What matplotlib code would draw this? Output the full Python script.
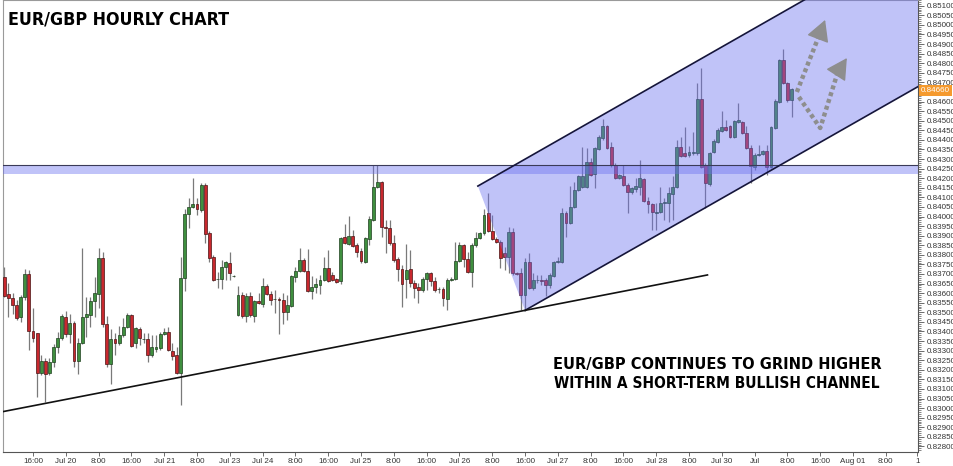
import matplotlib
matplotlib.use('Agg')
import matplotlib.pyplot as plt
import matplotlib.transforms as mtransforms
from matplotlib import font_manager
from matplotlib.font_manager import FontProperties
from matplotlib.patches import Polygon
from matplotlib.ticker import MultipleLocator, FormatStrFormatter

# hourly EUR/GBP candles
opens = [
    0.83684, 0.83595, 0.83574, 0.83538, 0.83475, 0.83579, 0.83700, 0.83402, 0.83391, 0.83183,
    0.83246, 0.83183, 0.83241, 0.83318, 0.83365, 0.83475, 0.83386, 0.83444, 0.83246, 0.83339,
    0.83475, 0.83486, 0.83559, 0.83595, 0.83783, 0.83439, 0.83230, 0.83360, 0.83339, 0.83381,
    0.83423, 0.83486, 0.83339, 0.83413, 0.83360, 0.83360, 0.83277, 0.83308, 0.83313, 0.83386,
    0.83397, 0.83298, 0.83277, 0.83183, 0.83679, 0.84013, 0.84049, 0.84065, 0.84034, 0.84164,
    0.83913, 0.83788, 0.83674, 0.83674, 0.83736, 0.83757, 0.83690, 0.83486, 0.83590, 0.83481,
    0.83585, 0.83481, 0.83559, 0.83543, 0.83637, 0.83595, 0.83569, 0.83569, 0.83564, 0.83502,
    0.83533, 0.83684, 0.83716, 0.83773, 0.83716, 0.83611, 0.83631, 0.83642, 0.83668, 0.83731,
    0.83695, 0.83674, 0.83663, 0.83892, 0.83856, 0.83898, 0.83851, 0.83820, 0.83763, 0.83882,
    0.83982, 0.84153, 0.84180, 0.83945, 0.83940, 0.83861, 0.83778, 0.83726, 0.83674, 0.83726,
    0.83652, 0.83631, 0.83616, 0.83674, 0.83705, 0.83663, 0.83621, 0.83621, 0.83569, 0.83668,
    0.83674, 0.83768, 0.83851, 0.83778, 0.83711, 0.83851, 0.83887, 0.83913, 0.84018, 0.83924,
    0.83882, 0.83867, 0.83809, 0.83788, 0.83919, 0.83705, 0.83705, 0.83590, 0.83763, 0.83626,
    0.83668, 0.83668, 0.83668, 0.83642, 0.83690, 0.83763, 0.83763, 0.84018, 0.83966, 0.84049,
    0.84138, 0.84153, 0.84153, 0.84285, 0.84222, 0.84352, 0.84409, 0.84473, 0.84362, 0.84269,
    0.84201, 0.84212, 0.84164, 0.84128, 0.84143, 0.84153, 0.84196, 0.84081, 0.84065, 0.84018,
    0.84024, 0.84070, 0.84070, 0.84117, 0.84153, 0.84362, 0.84331, 0.84321, 0.84331, 0.84331,
    0.84613, 0.84269, 0.84169, 0.84336, 0.84389, 0.84446, 0.84467, 0.84473, 0.84414, 0.84493,
    0.84493, 0.84435, 0.84357, 0.84258, 0.84321, 0.84326, 0.84342, 0.84258, 0.84462, 0.84598,
    0.84817, 0.84696, 0.84608,
]
highs = [
    0.83736, 0.83652, 0.83600, 0.83564, 0.83590, 0.83726, 0.83721, 0.83522, 0.83391, 0.83277,
    0.83261, 0.83261, 0.83334, 0.83397, 0.83491, 0.83507, 0.83491, 0.83455, 0.83365, 0.83835,
    0.83579, 0.83579, 0.83684, 0.83835, 0.83815, 0.83481, 0.83413, 0.83391, 0.83429, 0.83470,
    0.83496, 0.83491, 0.83423, 0.83423, 0.83391, 0.83391, 0.83381, 0.83381, 0.83397, 0.83418,
    0.83423, 0.83339, 0.83318, 0.83788, 0.84039, 0.84096, 0.84201, 0.84096, 0.84174, 0.84174,
    0.83924, 0.83799, 0.83711, 0.83773, 0.83768, 0.83815, 0.83695, 0.83637, 0.83606, 0.83600,
    0.83606, 0.83564, 0.83600, 0.83679, 0.83647, 0.83611, 0.83616, 0.83579, 0.83600, 0.83590,
    0.83695, 0.83736, 0.83835, 0.83783, 0.83830, 0.83690, 0.83679, 0.83695, 0.83788, 0.83825,
    0.83711, 0.83679, 0.83892, 0.83961, 0.84003, 0.83929, 0.83861, 0.83835, 0.83892, 0.84003,
    0.84269, 0.84269, 0.84185, 0.83982, 0.83982, 0.83903, 0.83788, 0.83747, 0.83856, 0.83825,
    0.83668, 0.83652, 0.83684, 0.83711, 0.83711, 0.83684, 0.83631, 0.83631, 0.83679, 0.83684,
    0.83867, 0.83867, 0.83856, 0.83815, 0.83861, 0.83919, 0.83919, 0.84039, 0.84122, 0.84008,
    0.83892, 0.83877, 0.83840, 0.83945, 0.83940, 0.83711, 0.83731, 0.83783, 0.83809, 0.83705,
    0.83695, 0.83695, 0.83679, 0.83705, 0.83768, 0.83788, 0.84044, 0.84029, 0.84159, 0.84180,
    0.84217, 0.84362, 0.84357, 0.84305, 0.84362, 0.84425, 0.84509, 0.84478, 0.84389, 0.84279,
    0.84222, 0.84269, 0.84174, 0.84153, 0.84201, 0.84295, 0.84201, 0.84101, 0.84070, 0.84070,
    0.84153, 0.84096, 0.84153, 0.84212, 0.84399, 0.84414, 0.84467, 0.84368, 0.84441, 0.84696,
    0.84775, 0.84279, 0.84336, 0.84404, 0.84462, 0.84551, 0.84504, 0.84478, 0.84504, 0.84592,
    0.84499, 0.84473, 0.84373, 0.84331, 0.84373, 0.84347, 0.84373, 0.84473, 0.84613, 0.84822,
    0.84874, 0.84702, 0.84670,
]
lows = [
    0.83579, 0.83475, 0.83491, 0.83460, 0.83450, 0.83564, 0.83303, 0.83345, 0.83057, 0.83173,
    0.83032, 0.83173, 0.83214, 0.83287, 0.83355, 0.83370, 0.83339, 0.83214, 0.83178, 0.83334,
    0.83370, 0.83423, 0.83475, 0.83522, 0.83423, 0.83214, 0.83125, 0.83277, 0.83329, 0.83370,
    0.83418, 0.83318, 0.83313, 0.83329, 0.83339, 0.83241, 0.83266, 0.83293, 0.83303, 0.83381,
    0.83298, 0.83251, 0.83178, 0.83016, 0.83611, 0.83940, 0.84044, 0.84008, 0.84024, 0.83861,
    0.83763, 0.83663, 0.83626, 0.83621, 0.83668, 0.83668, 0.83684, 0.83481, 0.83470, 0.83450,
    0.83475, 0.83450, 0.83543, 0.83527, 0.83590, 0.83538, 0.83496, 0.83386, 0.83439, 0.83460,
    0.83527, 0.83658, 0.83711, 0.83711, 0.83606, 0.83569, 0.83600, 0.83595, 0.83663, 0.83658,
    0.83663, 0.83652, 0.83647, 0.83856, 0.83851, 0.83840, 0.83788, 0.83757, 0.83757, 0.83851,
    0.83977, 0.84148, 0.83892, 0.83809, 0.83851, 0.83763, 0.83663, 0.83527, 0.83574, 0.83631,
    0.83574, 0.83548, 0.83606, 0.83616, 0.83637, 0.83606, 0.83600, 0.83533, 0.83512, 0.83663,
    0.83668, 0.83763, 0.83736, 0.83705, 0.83631, 0.83840, 0.83882, 0.83903, 0.83919, 0.83877,
    0.83861, 0.83731, 0.83721, 0.83705, 0.83695, 0.83695, 0.83512, 0.83507, 0.83621, 0.83616,
    0.83652, 0.83642, 0.83585, 0.83626, 0.83684, 0.83757, 0.83757, 0.83892, 0.83961, 0.84044,
    0.84133, 0.84148, 0.84148, 0.84212, 0.84148, 0.84347, 0.84399, 0.84352, 0.84258, 0.84196,
    0.84196, 0.84159, 0.84018, 0.84117, 0.84128, 0.84112, 0.84076, 0.84018, 0.83929, 0.83929,
    0.84018, 0.83982, 0.83972, 0.83982, 0.84148, 0.84310, 0.84310, 0.84310, 0.84321, 0.84321,
    0.84253, 0.84044, 0.84159, 0.84331, 0.84383, 0.84441, 0.84446, 0.84409, 0.84409, 0.84488,
    0.84430, 0.84352, 0.84174, 0.84243, 0.84316, 0.84321, 0.84217, 0.84253, 0.84457, 0.84592,
    0.84691, 0.84598, 0.84520,
]
closes = [
    0.83585, 0.83574, 0.83538, 0.83470, 0.83579, 0.83700, 0.83402, 0.83365, 0.83183, 0.83246,
    0.83178, 0.83241, 0.83318, 0.83365, 0.83481, 0.83386, 0.83444, 0.83246, 0.83339, 0.83475,
    0.83491, 0.83559, 0.83600, 0.83783, 0.83439, 0.83230, 0.83360, 0.83339, 0.83381, 0.83423,
    0.83486, 0.83324, 0.83418, 0.83365, 0.83360, 0.83277, 0.83318, 0.83318, 0.83386, 0.83397,
    0.83303, 0.83272, 0.83183, 0.83679, 0.84013, 0.84049, 0.84065, 0.84039, 0.84164, 0.83908,
    0.83783, 0.83668, 0.83674, 0.83736, 0.83763, 0.83705, 0.83690, 0.83590, 0.83481, 0.83585,
    0.83486, 0.83559, 0.83548, 0.83637, 0.83595, 0.83564, 0.83569, 0.83564, 0.83502, 0.83538,
    0.83690, 0.83716, 0.83773, 0.83716, 0.83611, 0.83631, 0.83647, 0.83668, 0.83731, 0.83663,
    0.83668, 0.83658, 0.83887, 0.83861, 0.83898, 0.83846, 0.83815, 0.83768, 0.83887, 0.83987,
    0.84153, 0.84180, 0.83945, 0.83940, 0.83861, 0.83773, 0.83726, 0.83647, 0.83721, 0.83652,
    0.83626, 0.83616, 0.83674, 0.83705, 0.83663, 0.83616, 0.83621, 0.83574, 0.83668, 0.83674,
    0.83768, 0.83851, 0.83778, 0.83711, 0.83851, 0.83887, 0.83913, 0.84008, 0.83924, 0.83882,
    0.83867, 0.83783, 0.83788, 0.83919, 0.83705, 0.83700, 0.83590, 0.83763, 0.83626, 0.83668,
    0.83668, 0.83663, 0.83642, 0.83695, 0.83763, 0.83768, 0.84018, 0.83966, 0.84049, 0.84138,
    0.84212, 0.84212, 0.84285, 0.84217, 0.84357, 0.84414, 0.84473, 0.84357, 0.84269, 0.84201,
    0.84217, 0.84164, 0.84128, 0.84148, 0.84159, 0.84201, 0.84081, 0.84065, 0.84024, 0.84024,
    0.84070, 0.84075, 0.84122, 0.84153, 0.84362, 0.84316, 0.84316, 0.84336, 0.84336, 0.84613,
    0.84259, 0.84174, 0.84331, 0.84394, 0.84451, 0.84467, 0.84451, 0.84414, 0.84499, 0.84504,
    0.84435, 0.84357, 0.84264, 0.84321, 0.84326, 0.84342, 0.84258, 0.84467, 0.84603, 0.84817,
    0.84696, 0.84608, 0.84665,
]

# x axis labels, one every 8 candles
tick_labels = ['16:00', 'Jul 20', '8:00', '16:00', 'Jul 21', '8:00', 'Jul 23', 'Jul 24',
               '8:00', '16:00', 'Jul 25', '8:00', '16:00', 'Jul 26', '8:00', '16:00',
               'Jul 27', '8:00', '16:00', 'Jul 28', '8:00', 'Jul 30', 'Jul', '8:00',
               '16:00', 'Aug 01', '8:00']

# drawn objects (candle index, price)
level_top = 0.84267
level_bottom = 0.84222
support_line = [(-1.0, 0.82979), (171.5, 0.83695)]
channel_lower = [(127.0, 0.83510), (230.0, 0.84765)]
channel_upper = [(115.5, 0.84159), (230.0, 0.85556)]
arrow_up = [(193.3, 0.84650), (198.5, 0.84932)]
arrow_up_tip = (200.2, 0.85026)
arrow_dip = [(193.8, 0.84624), (199.0, 0.84462), (203.3, 0.84754)]
arrow_dip_tip = (205.5, 0.84827)
last_price = 0.84660

title = 'EUR/GBP HOURLY CHART'
note = ['EUR/GBP CONTINUES TO GRIND HIGHER', 'WITHIN A SHORT-TERM BULLISH CHANNEL']


def narrow_bold_font():
    # look for any bold narrow/condensed face, else plain Liberation Sans bold
    for f in font_manager.fontManager.ttflist:
        w = str(f.weight).lower()
        bold = w in ('bold', 'heavy', 'black', '700', '800', '900')
        if bold and ('Narrow' in f.name or 'Condensed' in f.name
                     or 'condensed' in str(f.stretch)):
            return FontProperties(fname=f.fname)
    return FontProperties(family=['Liberation Sans', 'DejaVu Sans'], weight='bold')


W, H = 954, 466
fig = plt.figure(figsize=(W / 100, H / 100), dpi=100)
fig.patch.set_facecolor('white')
ax = fig.add_axes([3 / W, 14 / H, 915 / W, 452 / H])
ax.set_xlim(-0.32, 222.85)
ax.set_ylim(0.82771, 0.85130)

# candles
for i in range(len(opens)):
    o, h, l, c = opens[i], highs[i], lows[i], closes[i]
    up = c >= o
    ax.vlines(i, l, h, color='#7a7a7a', lw=0.9, zorder=2)
    body = max(abs(c - o), 0.00002)
    ax.bar(i, body, bottom=min(o, c), width=0.7,
           color='#3f8f3f' if up else '#c8282e',
           edgecolor='#1f3f1f' if up else '#4a1414', linewidth=0.5, zorder=3)

# horizontal level and band
ax.axhspan(level_bottom, level_top, color='#6b70f0', alpha=0.42, lw=0, zorder=4)
ax.axhline(level_top, color='#3a3a58', lw=0.8, zorder=5)

# channel
poly = [channel_upper[0], channel_upper[1], channel_lower[1], channel_lower[0]]
ax.add_patch(Polygon(poly, closed=True, facecolor='#6b70f0', alpha=0.42, lw=0, zorder=4))
ax.plot(*zip(*channel_upper), color='#15153a', lw=1.2, zorder=6)
ax.plot(*zip(*channel_lower), color='#15153a', lw=1.2, zorder=6)
ax.plot(*zip(*support_line), color='#111111', lw=1.2, zorder=6)

# projected paths
grey = '#8e8e8e'
for path, tip in [(arrow_up, arrow_up_tip), (arrow_dip, arrow_dip_tip)]:
    ax.plot(*zip(*path), color=grey, lw=3.2, linestyle=(0, (0.9, 0.7)),
            solid_capstyle='butt', zorder=7)
    ax.annotate('', xy=tip, xytext=path[-1],
                arrowprops=dict(arrowstyle='-|>,head_length=1.1,head_width=0.6',
                                color=grey, lw=1, shrinkA=0, shrinkB=0,
                                mutation_scale=12), zorder=7)

# axes styling
for side in ['left', 'top']:
    ax.spines[side].set_color('#9a9a9a')
ax.spines['right'].set_color('#555555')
ax.spines['bottom'].set_color('#555555')
ax.yaxis.tick_right()
ax.yaxis.set_major_locator(MultipleLocator(0.0005))
ax.yaxis.set_minor_locator(MultipleLocator(0.0001))
ax.yaxis.set_major_formatter(FormatStrFormatter('%.5f'))
ax.tick_params(axis='y', which='major', length=4, width=0.6, pad=2,
               labelsize=5.8, labelcolor='#333333', color='#555555')
ax.tick_params(axis='y', which='minor', length=2, width=0.5, color='#555555')
ticks = [7 + 8 * k for k in range(len(tick_labels))] + [222.7]
ax.set_xticks(ticks)
ax.set_xticklabels(tick_labels + ['1'])
ax.tick_params(axis='x', length=3, width=0.6, pad=1.5, labelsize=5.8,
               labelcolor='#333333', color='#555555')
fig.canvas.draw()
for lab in ax.get_yticklabels() + ax.get_xticklabels():
    lab.set_family(['Liberation Sans', 'DejaVu Sans'])
# the price tag sits on top of the tick label nearest the last price
for val, lab in zip(ax.get_yticks(), ax.get_yticklabels()):
    if abs(val - last_price) < 0.0001:
        lab.set_visible(False)

# current price tag
trans = mtransforms.blended_transform_factory(ax.transAxes, ax.transData)
ax.text(1.003, last_price, '0.84660', transform=trans, ha='left', va='center',
        fontsize=5.8, color='white', family=['Liberation Sans', 'DejaVu Sans'],
        bbox=dict(boxstyle='square,pad=0.25', fc='#f59a2e', ec='none'),
        clip_on=False, zorder=10)

fp = narrow_bold_font()
texts = [
    (fig.text(8 / W, 1 - 20 / H, title, fontproperties=fp, va='center', ha='left'), 222),
    (fig.text(717 / W, 1 - 364 / H, note[0], fontproperties=fp, va='center', ha='center'), 328),
    (fig.text(717 / W, 1 - 384 / H, note[1], fontproperties=fp, va='center', ha='center'), 326),
]
renderer = fig.canvas.get_renderer()
for t, width_px in texts:
    t.set_fontsize(14)
    w = t.get_window_extent(renderer).width
    t.set_fontsize(14 * width_px / w)

fig.savefig('out.png', dpi=100)
